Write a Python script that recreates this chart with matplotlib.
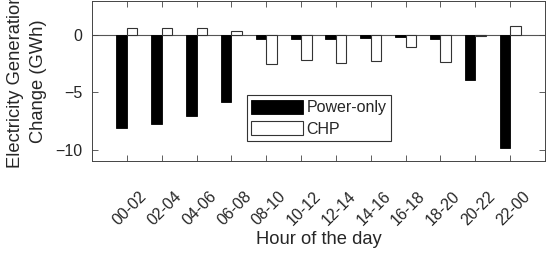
import numpy as np
import matplotlib
matplotlib.use("Agg")
import matplotlib.pyplot as plt
from matplotlib.transforms import ScaledTranslation

plt.rcParams['font.family'] = ['Liberation Sans', 'DejaVu Sans']

hours = ['00-02', '02-04', '04-06', '06-08', '08-10', '10-12',
         '12-14', '14-16', '16-18', '18-20', '20-22', '22-00']
power_only = [-8.07, -7.72, -7.02, -5.88, -0.32, -0.3,
              -0.3, -0.25, -0.15, -0.3, -3.89, -9.9]
chp = [0.65, 0.62, 0.62, 0.4, -2.48, -2.16,
       -2.4, -2.25, -1.02, -2.3, -0.05, 0.8]

txt = '#262626'
fig = plt.figure(figsize=(5.46, 2.6), dpi=100)
ax = fig.add_axes([92/546, 99/260, 453/546, 160/260])

x = np.arange(1, len(hours) + 1)
w = 0.3
ax.bar(x - w/2, power_only, w, color='black', edgecolor='black', lw=0.6, label='Power-only')
ax.bar(x + w/2, chp, w, color='white', edgecolor='#333333', lw=0.8, label='CHP')
ax.axhline(0, color='#555555', lw=0.8, zorder=0.5)

ax.set_xlim(0, 13)
ax.set_ylim(-11, 3)
ax.set_yticks([-10, -5, 0])
ax.set_xticks(x)

ax.tick_params(direction='in', length=4, width=0.6, colors='#444444',
               labelcolor=txt, labelsize=11.5, top=True, right=True)
ax.tick_params(axis='x', pad=20)
ax.tick_params(axis='y', pad=7)
for s in ax.spines.values():
    s.set_color('#444444')
    s.set_linewidth(0.7)

# rotated labels sit a bit right of their ticks, as in the original
ax.set_xticklabels(hours, rotation=45, ha='right', va='top', rotation_mode='anchor')
for lab in ax.get_xticklabels():
    lab.set_transform(lab.get_transform() + ScaledTranslation(12/100, 0, fig.dpi_scale_trans))

ax.set_xlabel('Hour of the day', fontsize=13.2, color=txt, labelpad=2)
fig.text(27/546, 1 - 81/260, 'Electricity Generation\nChange (GWh)', rotation=90,
         ha='center', va='center', fontsize=13.2, color=txt, linespacing=1.5)

leg = ax.legend(loc='upper left', bbox_to_anchor=(0.3415, 0.4125), borderaxespad=0,
                fontsize=11.5, fancybox=False, framealpha=1, edgecolor='#333333',
                handlelength=3.2, handleheight=1.0, handletextpad=0.25,
                borderpad=0.3, labelspacing=0.35)
leg.get_frame().set_linewidth(0.8)
for t in leg.get_texts():
    t.set_color(txt)

fig.savefig('out.png', dpi=100)
